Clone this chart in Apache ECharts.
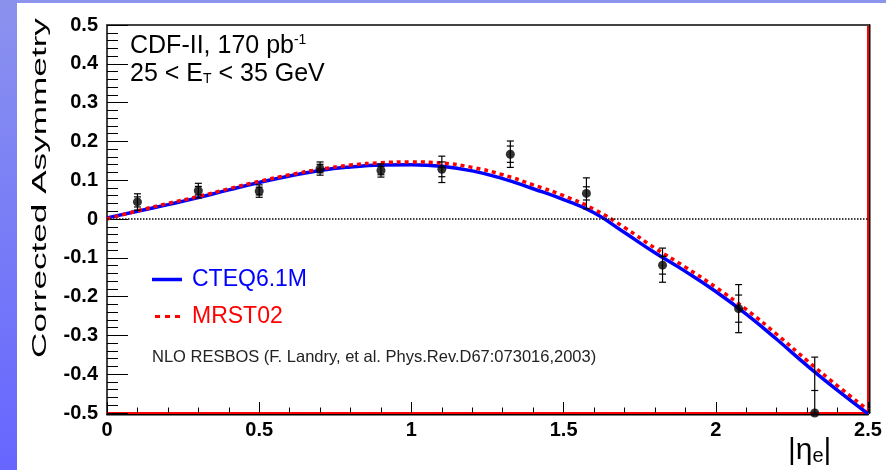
<!DOCTYPE html>
<html>
<head>
<meta charset="utf-8">
<script src="https://cdn.jsdelivr.net/npm/echarts@6/dist/echarts.min.js"></script>
<style>html,body{margin:0;padding:0;background:#fff;}#c{width:886px;height:470px;}</style>
</head>
<body>
<div id="c"></div>
<script>
// Measured data points
const etaX    = [0.1, 0.3, 0.5, 0.7, 0.9, 1.1, 1.325, 1.575, 1.825, 2.075, 2.325];
const asym    = [0.044, 0.073, 0.072, 0.130, 0.125, 0.128, 0.167, 0.066, -0.119, -0.231, -0.5];
const errTot  = [0.021, 0.019, 0.016, 0.017, 0.017, 0.034, 0.034, 0.040, 0.044, 0.062, 0.144];
const errStat = [0.013, 0.011, 0.010, 0.011, 0.011, 0.019, 0.021, 0.017, 0.023, 0.035, 0.058];

// Theory curves (RESBOS)
const curveX = [0, 0.1, 0.2, 0.3, 0.4, 0.5, 0.6, 0.7, 0.8, 0.9, 1.0, 1.1, 1.2, 1.3, 1.4, 1.5, 1.6, 1.7, 1.8, 1.9, 2.0, 2.1, 2.2, 2.3, 2.4, 2.5];
const cteq = [0.003, 0.02, 0.037, 0.055, 0.075, 0.094, 0.111, 0.125, 0.134, 0.139, 0.14, 0.136, 0.124, 0.104, 0.078, 0.05, 0.016, -0.035, -0.087, -0.135, -0.187, -0.245, -0.31, -0.378, -0.442, -0.502];
const mrst = [0.0, 0.021, 0.04, 0.058, 0.078, 0.097, 0.114, 0.128, 0.139, 0.145, 0.147, 0.144, 0.133, 0.114, 0.088, 0.06, 0.025, -0.022, -0.075, -0.124, -0.176, -0.233, -0.297, -0.365, -0.43, -0.492];

const FONT = 'Liberation Sans, Arial, Helvetica, sans-serif';
const chart = echarts.init(document.getElementById('c'), null, {renderer: 'canvas'});

const option = {
  backgroundColor: '#ffffff',
  animation: false,
  grid: {left: 107, right: 18, top: 25, bottom: 57, containLabel: false},
  graphic: [
    {type: 'rect', left: 0, top: 0, shape: {width: 886, height: 3}, style: {fill: '#8c94ee'}, silent: true, z: -10},
    {type: 'rect', left: 0, top: 0, shape: {width: 17, height: 470},
      style: {fill: new echarts.graphic.LinearGradient(0, 0, 0, 1, [{offset: 0, color: '#8a92ee'}, {offset: 1, color: '#6666ff'}])}, silent: true, z: -10},
    {type: 'text', x: 41, y: 188, rotation: Math.PI / 2, scaleX: 1.85, scaleY: 1.05,
      style: {text: 'Corrected Asymmetry', font: '19px ' + FONT, fill: '#000', align: 'center', verticalAlign: 'middle'}},
    {type: 'text', x: 130, y: 46,
      style: {text: 'CDF-II, 170 pb{sup|-1}', font: '25px ' + FONT, fill: '#000', verticalAlign: 'middle',
        rich: {sup: {fontSize: 14, fontFamily: FONT, verticalAlign: 'top', fill: '#000'}}}},
    {type: 'text', x: 130, y: 74,
      style: {text: '25 < E{sub|T} < 35 GeV', font: '25px ' + FONT, fill: '#000', verticalAlign: 'middle',
        rich: {sub: {fontSize: 14, fontFamily: FONT, verticalAlign: 'bottom', fill: '#000'}}}},
    {type: 'text', x: 152, y: 357,
      style: {text: 'NLO RESBOS (F. Landry, et al. Phys.Rev.D67:073016,2003)', font: '16.5px ' + FONT, fill: '#222', verticalAlign: 'middle'}},
    {type: 'text', x: 788, y: 451,
      style: {text: '|η{e|e}|', font: '30px ' + FONT, fill: '#000', verticalAlign: 'middle',
        rich: {e: {fontSize: 20, fontFamily: FONT, verticalAlign: 'bottom', fill: '#000'}}}}
  ],
  legend: {
    orient: 'vertical', left: 147, top: 263, itemWidth: 30, itemHeight: 3.5, itemGap: 14,
    textStyle: {fontSize: 23, fontFamily: FONT, padding: [0, 0, 0, 5]},
    data: [
      {name: 'CTEQ6.1M', icon: 'rect', textStyle: {color: '#0000ff'}},
      {name: 'MRST02', icon: 'path://M3,0h5v3h-5z M13,0h5v3h-5z M23,0h5v3h-5z M0,0h0.01v0.01h-0.01z M30,0h0.01v0.01h-0.01z', textStyle: {color: '#ff0000'}}
    ]
  },
  xAxis: [
    {type: 'value', position: 'bottom', min: 0, max: 2.5, interval: 0.5,
      axisLine: {onZero: false, lineStyle: {color: '#ff0000', width: 2, shadowColor: '#000', shadowOffsetY: 1.5, shadowBlur: 0}},
      axisTick: {inside: true, length: 11, lineStyle: {color: '#000', width: 1}},
      minorTick: {show: true, splitNumber: 5, length: 5.5, lineStyle: {color: '#000', width: 1}},
      splitLine: {show: false},
      axisLabel: {color: '#000', fontSize: 20, fontWeight: 'bold', fontFamily: FONT, margin: 7}
    },
    {type: 'value', position: 'top', min: 0, max: 2.5,
      axisLine: {onZero: false, lineStyle: {color: '#444', width: 2}},
      axisTick: {show: false}, axisLabel: {show: false}, splitLine: {show: false}
    }
  ],
  yAxis: [
    {type: 'value', position: 'left', min: -0.5, max: 0.5, interval: 0.1,
      axisLine: {show: true, onZero: false, lineStyle: {color: '#000', width: 1.5}},
      axisTick: {inside: true, length: 21, lineStyle: {color: '#000', width: 1}},
      minorTick: {show: true, splitNumber: 5, length: 11, lineStyle: {color: '#000', width: 1}},
      splitLine: {show: false},
      axisLabel: {color: '#000', fontSize: 20, fontWeight: 'bold', fontFamily: FONT, margin: 9}
    },
    {type: 'value', position: 'right', min: -0.5, max: 0.5,
      axisLine: {show: true, onZero: false, lineStyle: {color: '#ff0000', width: 2, shadowColor: '#000', shadowOffsetX: 1.5, shadowBlur: 0}},
      axisTick: {show: false}, axisLabel: {show: false}, splitLine: {show: false}
    }
  ],
  series: [
    {name: 'CTEQ6.1M', type: 'line', xAxisIndex: 0, yAxisIndex: 0, symbol: 'none', smooth: true,
      lineStyle: {color: '#0000ff', width: 3.5}, itemStyle: {color: '#0000ff'},
      data: cteq.map((v, i) => [curveX[i], v]), z: 3,
      markLine: {silent: true, symbol: 'none', label: {show: false},
        lineStyle: {color: '#000', width: 1.5, type: [1.5, 1.5]}, data: [{yAxis: 0}]}
    },
    {name: 'MRST02', type: 'line', xAxisIndex: 0, yAxisIndex: 0, symbol: 'none', smooth: true,
      lineStyle: {color: '#ff0000', width: 3.5, type: [4, 4]}, itemStyle: {color: '#ff0000'},
      data: mrst.map((v, i) => [curveX[i], v]), z: 4
    },
    {name: 'errors', type: 'custom', xAxisIndex: 0, yAxisIndex: 0, clip: true, z: 5,
      data: etaX.map((x, i) => [x, asym[i], errTot[i], errStat[i]]),
      renderItem: function (params, api) {
        const x = api.value(0), y = api.value(1), et = api.value(2), es = api.value(3);
        const t = api.coord([x, y + et]);
        const b = api.coord([x, y - et]);
        const st = api.coord([x, y + es]);
        const sb = api.coord([x, y - es]);
        const w = 3.5;
        const style = {stroke: '#000', lineWidth: 1.2};
        const seg = (p) => ({type: 'line', shape: {x1: p[0] - w, y1: p[1], x2: p[0] + w, y2: p[1]}, style: style});
        return {type: 'group', children: [
          {type: 'line', shape: {x1: t[0], y1: t[1], x2: b[0], y2: b[1]}, style: style},
          seg(t), seg(b), seg(st), seg(sb)
        ]};
      }
    },
    {name: 'data', type: 'scatter', xAxisIndex: 0, yAxisIndex: 0, clip: false, z: 6,
      symbol: 'circle', symbolSize: 9, itemStyle: {color: '#000'},
      data: etaX.map((x, i) => [x, asym[i]])
    }
  ]
};
chart.setOption(option);
</script>
</body>
</html>
